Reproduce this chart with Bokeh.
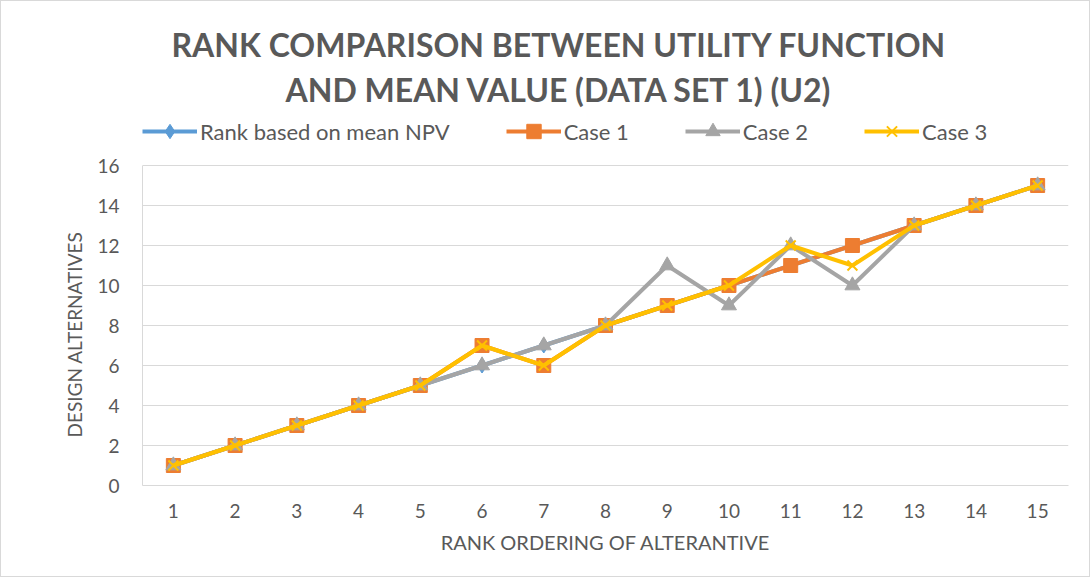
from bokeh.plotting import figure
from bokeh.models import Legend, LegendItem, FixedTicker, Range1d, Title
from bokeh.embed import file_html
from bokeh.resources import INLINE

ranks = list(range(1, 16))
mean_npv = [1, 2, 3, 4, 5, 6, 7, 8, 9, 10, 11, 12, 13, 14, 15]
case1 = [1, 2, 3, 4, 5, 7, 6, 8, 9, 10, 11, 12, 13, 14, 15]
case2 = [1, 2, 3, 4, 5, 6, 7, 8, 11, 9, 12, 10, 13, 14, 15]
case3 = [1, 2, 3, 4, 5, 7, 6, 8, 9, 10, 12, 11, 13, 14, 15]
y_ticks = [0, 2, 4, 6, 8, 10, 12, 14, 16]
title_lines = ["RANK COMPARISON BETWEEN UTILITY FUNCTION", "AND MEAN VALUE (DATA SET 1) (U2)"]

FONT = "Lato"
TXT = "#595959"

# frame extends up to hold the legend row; axis/grid are bounded to 0..16
p = figure(frame_width=926, frame_height=372, output_backend="svg", toolbar_location=None,
           title=None,
           x_range=Range1d(0.5, 15.5), y_range=Range1d(0, 18.6),
           min_border_left=141, min_border_right=21, min_border_top=112, min_border_bottom=91)

series = [
    ("Rank based on mean NPV", mean_npv, "#5B9BD5", "diamond", 15),
    ("Case 1", case1, "#ED7D31", "square", 14),
    ("Case 2", case2, "#A5A5A5", "triangle", 15),
    ("Case 3", case3, "#FFC000", "x", 14),
]
items = []
for name, ys, color, marker, size in series:
    r1 = p.line(ranks, ys, line_color=color, line_width=4)
    r2 = p.scatter(ranks, ys, marker=marker, size=size, fill_color=color,
                   line_color=color, line_width=2 if marker == "x" else 1)
    items.append(LegendItem(label=name, renderers=[r1, r2]))

legend = Legend(items=items, orientation="horizontal", location="top_left")
legend.label_text_font = FONT
legend.label_text_font_size = "22px"
legend.label_text_color = TXT
legend.glyph_width = 55
legend.glyph_height = 36
legend.label_standoff = 3
legend.spacing = 56
legend.border_line_color = None
legend.background_fill_alpha = 0
legend.padding = 7
legend.margin = 0
p.add_layout(legend, "center")

t2 = Title(text=title_lines[1], align="left", offset=143, text_font=FONT,
           text_font_size="32px", text_font_style="bold", text_color=TXT, standoff=9)
t1 = Title(text=title_lines[0], align="left", offset=29, text_font=FONT,
           text_font_size="32px", text_font_style="bold", text_color=TXT, standoff=0)
p.add_layout(t2, "above")
p.add_layout(t1, "above")

p.xgrid.grid_line_color = None
p.ygrid.grid_line_color = "#D9D9D9"
p.ygrid.grid_line_width = 1
p.outline_line_color = None

p.xaxis.ticker = FixedTicker(ticks=ranks)
p.yaxis.ticker = FixedTicker(ticks=y_ticks)
p.yaxis.bounds = (0, 16)
for ax in (p.xaxis, p.yaxis):
    ax.major_tick_line_color = None
    ax.minor_tick_line_color = None
    ax.major_tick_out = 0
    ax.major_tick_in = 0
    ax.minor_tick_out = 0
    ax.axis_line_color = "#D9D9D9"
    ax.major_label_text_font = FONT
    ax.major_label_text_font_size = "19px"
    ax.major_label_text_color = TXT
    ax.axis_label_text_font = FONT
    ax.axis_label_text_font_style = "normal"
    ax.axis_label_text_color = TXT
p.xaxis.axis_label = "RANK ORDERING OF ALTERANTIVE"
p.xaxis.axis_label_text_font_size = "20px"
p.xaxis.major_label_standoff = 18
p.yaxis.major_label_standoff = 23
p.xaxis.axis_label_standoff = 9

# y-axis title centred on the 0..16 span (Excel style)
ylab = Title(text="DESIGN ALTERNATIVES", align="left", offset=48, text_font=FONT,
             text_font_size="19px", text_font_style="normal", text_color=TXT, standoff=18)
p.add_layout(ylab, "left")

p.styles = {"border": "1px solid #D9D9D9", "box-sizing": "border-box"}

open("out.html", "w").write(file_html(p, INLINE))
